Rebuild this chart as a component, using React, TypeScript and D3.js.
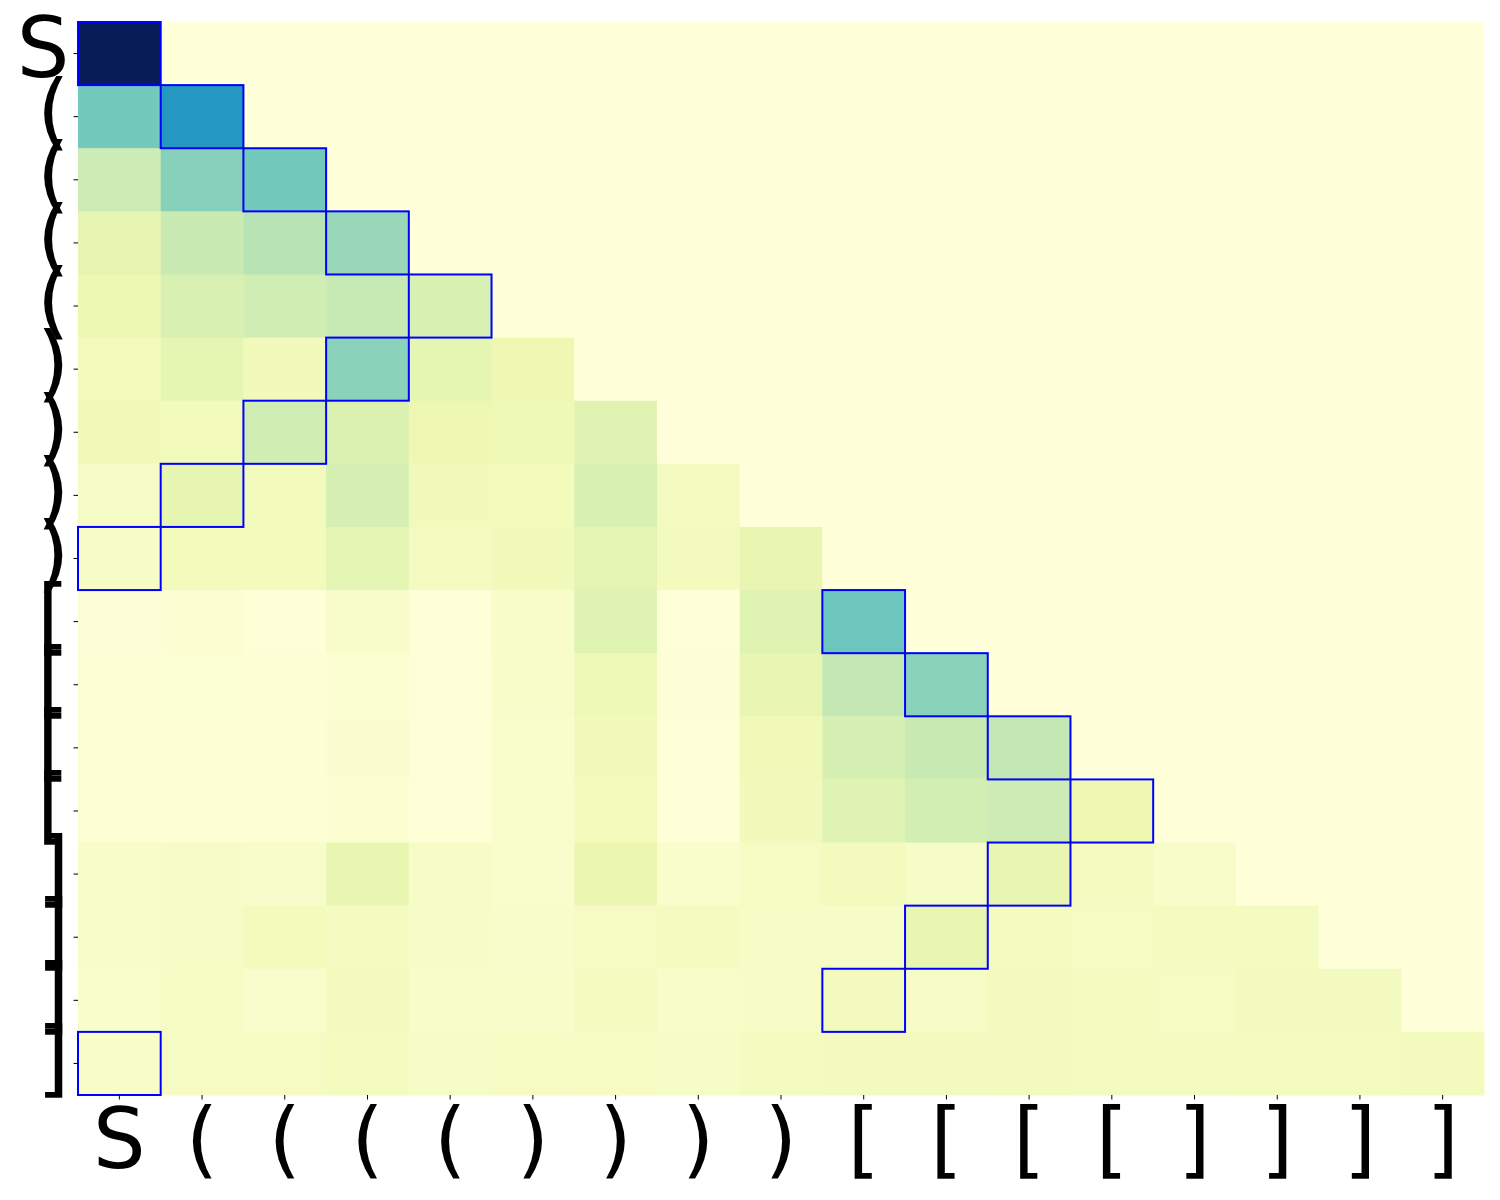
import React from "react";
import * as d3 from "d3";

// bracket tokens on both axes
const tokens = ["S", "(", "(", "(", "(", ")", ")", ")", ")", "[", "[", "[", "[", "]", "]", "]", "]"];

// lower triangle (incl. diagonal), row r has r+1 values
const rows: number[][] = [
  [1.0],
  [0.397, 0.6],
  [0.23, 0.361, 0.397],
  [0.148, 0.24, 0.276, 0.33],
  [0.122, 0.19, 0.22, 0.25, 0.19],
  [0.09, 0.15, 0.095, 0.354, 0.15, 0.12],
  [0.1, 0.09, 0.22, 0.185, 0.12, 0.11, 0.165],
  [0.06, 0.148, 0.09, 0.2, 0.095, 0.09, 0.19, 0.075],
  [0.06, 0.09, 0.09, 0.155, 0.075, 0.095, 0.155, 0.085, 0.14],
  [0.009, 0.022, 0.008, 0.047, 0.008, 0.053, 0.17, 0.006, 0.17, 0.413],
  [0.015, 0.018, 0.015, 0.025, 0.008, 0.05, 0.11, 0.009, 0.138, 0.255, 0.354],
  [0.015, 0.015, 0.015, 0.027, 0.008, 0.042, 0.094, 0.008, 0.1, 0.2, 0.24, 0.255],
  [0.015, 0.015, 0.015, 0.022, 0.008, 0.042, 0.09, 0.008, 0.094, 0.17, 0.21, 0.23, 0.12],
  [0.05, 0.0625, 0.047, 0.138, 0.06, 0.042, 0.13, 0.045, 0.065, 0.085, 0.0625, 0.14, 0.075, 0.05],
  [0.05, 0.056, 0.09, 0.075, 0.06, 0.047, 0.07, 0.075, 0.056, 0.06, 0.138, 0.075, 0.07, 0.078, 0.075],
  [0.042, 0.07, 0.045, 0.085, 0.053, 0.05, 0.075, 0.053, 0.0625, 0.088, 0.0625, 0.088, 0.078, 0.07, 0.088, 0.082],
  [0.05, 0.07, 0.07, 0.08, 0.06, 0.065, 0.07, 0.06, 0.078, 0.082, 0.082, 0.085, 0.075, 0.075, 0.08, 0.08, 0.085],
];

// matched pairs highlighted with a blue box: [row, col]
const outlined: [number, number][] = [
  [0, 0], [1, 1], [2, 2], [3, 3], [4, 4], [5, 3], [6, 2], [7, 1], [8, 0],
  [9, 9], [10, 10], [11, 11], [12, 12], [13, 11], [14, 10], [15, 9], [16, 0],
];

// matplotlib YlGnBu stops
const ylgnbu = ["#ffffd9", "#edf8b1", "#c7e9b4", "#7fcdbb", "#41b6c4", "#1d91c0", "#225ea8", "#253494", "#081d58"];

export default function App() {
  const left = 78, right = 1484, top = 22, bottom = 1095;
  const fontSize = 83;
  const idx = tokens.map((_, i) => i);

  const x = d3.scaleBand<number>().domain(idx).range([left, right]);
  const y = d3.scaleBand<number>().domain(idx).range([top, bottom]);
  const color = d3
    .scaleLinear<string>()
    .domain(ylgnbu.map((_, i) => i / (ylgnbu.length - 1)))
    .range(ylgnbu)
    .interpolate(d3.interpolateRgb);

  const cells: { r: number; c: number; v: number }[] = [];
  idx.forEach((r) => {
    idx.forEach((c) => {
      const v = c <= r ? rows[r][c] : 0;
      cells.push({ r, c, v });
    });
  });

  const bw = x.bandwidth(), bh = y.bandwidth();

  return (
    <svg width={1500} height={1200} style={{ display: "block", marginTop: -8, marginLeft: -8 }}>
      <rect width={1500} height={1200} fill="#fff" />
      {cells.map((d) => (
        <rect
          key={d.r + "-" + d.c}
          x={x(d.c)}
          y={y(d.r)}
          width={bw + 0.5}
          height={bh + 0.5}
          fill={color(d.v)}
        />
      ))}
      {outlined.map(([r, c]) => (
        <rect
          key={"o" + r + "-" + c}
          x={x(c)}
          y={y(r)}
          width={bw}
          height={bh}
          fill="none"
          stroke="#0000ff"
          strokeWidth={2}
        />
      ))}
      {/* x axis */}
      {idx.map((i) => {
        const cx = (x(i) as number) + bw / 2;
        return (
          <g key={"xt" + i}>
            <line x1={cx} x2={cx} y1={bottom} y2={bottom + 4.5} stroke="#000" strokeWidth={1} />
            <text
              x={cx}
              y={1168}
              textAnchor="middle"
              fontFamily="DejaVu Sans"
              fontSize={fontSize}
              fill="#000"
            >
              {tokens[i]}
            </text>
          </g>
        );
      })}
      {/* y axis */}
      {idx.map((i) => {
        const cy = (y(i) as number) + bh / 2;
        return (
          <g key={"yt" + i}>
            <line x1={left - 4.5} x2={left} y1={cy} y2={cy} stroke="#000" strokeWidth={1} />
            <text
              x={left - 8.5}
              y={cy + 0.28 * fontSize}
              textAnchor="end"
              fontFamily="DejaVu Sans"
              fontSize={fontSize}
              fill="#000"
            >
              {tokens[i]}
            </text>
          </g>
        );
      })}
    </svg>
  );
}
